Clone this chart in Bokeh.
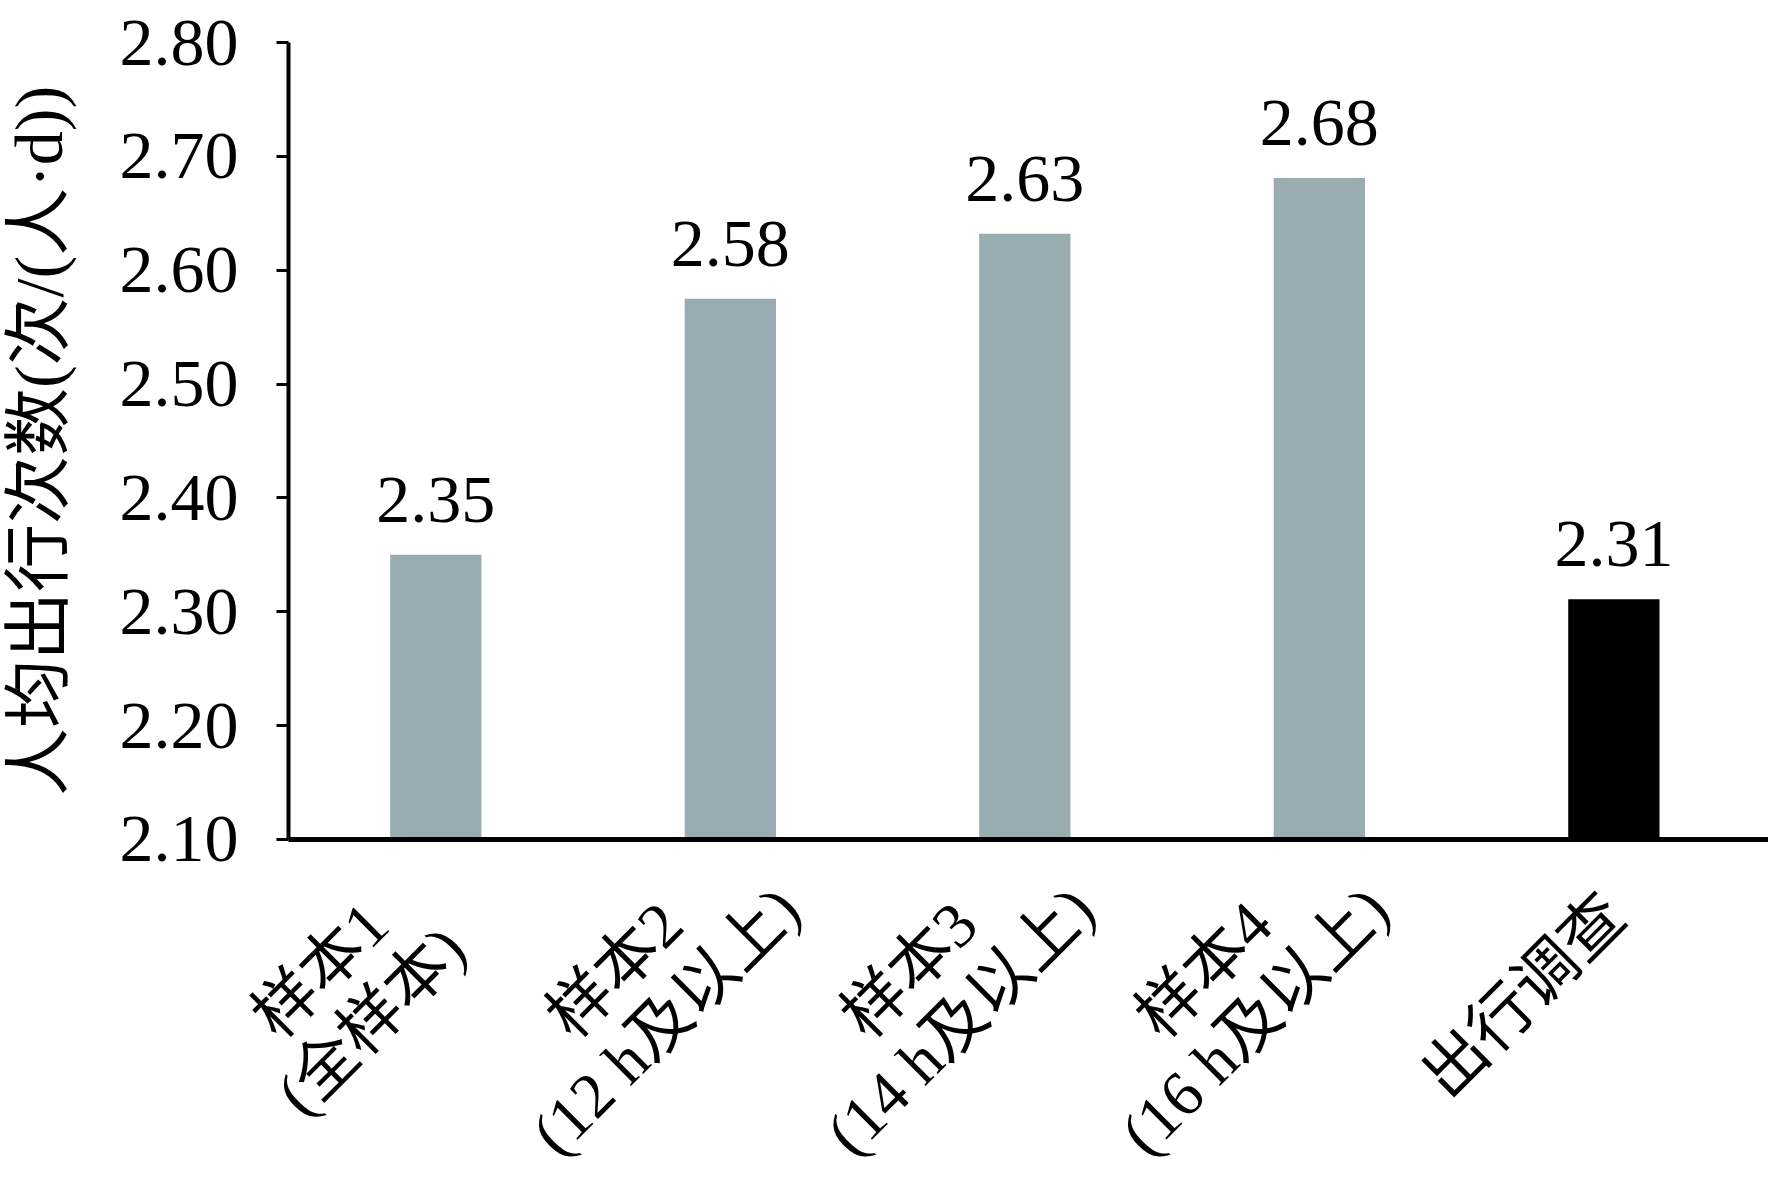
import math
from bokeh.plotting import figure
from bokeh.models import (ColumnDataSource, Range1d, FixedTicker, NumeralTickFormatter,
                          LabelSet, LinearAxis)
from bokeh.embed import file_html
from bokeh.resources import INLINE
from bokeh.core.properties import value

categories = ["样本1\n(全样本)", "样本2\n(12 h及以上)", "样本3\n(14 h及以上)",
              "样本4\n(16 h及以上)", "出行调查"]
trips = [2.35, 2.575, 2.632, 2.681, 2.311]
value_labels = ["2.35", "2.58", "2.63", "2.68", "2.31"]
bar_colors = ["#99acb1", "#99acb1", "#99acb1", "#99acb1", "#000000"]
y_ticks = [2.10, 2.20, 2.30, 2.40, 2.50, 2.60, 2.70, 2.80]
y_label = "人均出行次数(次/(人·d))"

# ---- layout / style settings ----
FONT = "Liberation Serif, Noto Sans CJK SC"
FS = "68px"
FS_CAT = "64px"
W, H = 1768, 1176
X_START, X_END = -0.978, 5.025          # category slots 0..5, room left of the y axis
Y_START, Y_END = 1.804, 2.8369          # room under the x axis for the rotated labels
LBL_DX, LBL_DY, LINE_GAP = -90, -156, 72
C45 = math.cos(math.pi / 4)

n = len(categories)
xpos = [i + 0.5 for i in range(n)]
base = [y_ticks[0]] * n
src = ColumnDataSource(dict(x=xpos, top=trips, lab=value_labels, color=bar_colors, base=base))

# one row per text line of each category label, lines centred on each other
lx, ly, lt, lxo, lyo = [], [], [], [], []
for i, cat in enumerate(categories):
    lines = cat.split("\n")
    m = len(lines)
    for j, t in enumerate(lines):
        k = j - (m - 1) / 2
        lx.append(xpos[i]); ly.append(y_ticks[0]); lt.append(t)
        lxo.append(LBL_DX + k * LINE_GAP * C45)
        lyo.append(LBL_DY - k * LINE_GAP * C45)
lsrc = ColumnDataSource(dict(x=lx, y=ly, text=lt, xo=lxo, yo=lyo))

p = figure(x_range=Range1d(X_START, X_END), y_range=Range1d(Y_START, Y_END),
           width=W, height=H, output_backend="svg", toolbar_location=None,
           x_axis_location=None, y_axis_location=None,
           min_border_left=0, min_border_top=0, min_border_bottom=0, min_border_right=0)
p.outline_line_color = None
p.xgrid.grid_line_color = None
p.ygrid.grid_line_color = None

p.vbar(x="x", top="top", bottom="base", width=0.31, fill_color="color", line_color=None, source=src)
p.text(x="x", y="top", text="lab", source=src, text_align="center", text_baseline="alphabetic",
       y_offset=-55, text_font=value(FONT), text_font_size=FS, text_color="#000000")

cat_labels = LabelSet(x="x", y="y", text="text", source=lsrc, angle=math.pi / 4,
                      text_align="center", text_baseline="middle", x_offset="xo", y_offset="yo",
                      text_font=value(FONT), text_font_size=FS_CAT, text_color="#000000")
p.add_layout(cat_labels)

xaxis = LinearAxis(fixed_location=y_ticks[0], bounds=(0, X_END), ticker=FixedTicker(ticks=[]))
xaxis.major_tick_line_color = None
xaxis.minor_tick_line_color = None
xaxis.axis_line_width = 5
xaxis.axis_line_color = "#000000"
p.add_layout(xaxis, "below")

yaxis = LinearAxis(fixed_location=0, bounds=(y_ticks[0], y_ticks[-1]), ticker=FixedTicker(ticks=y_ticks))
yaxis.formatter = NumeralTickFormatter(format="0.00")
yaxis.axis_label = y_label
yaxis.axis_label_text_font = FONT
yaxis.axis_label_text_font_size = FS
yaxis.axis_label_text_font_style = "normal"
yaxis.axis_label_standoff = 40
yaxis.major_label_text_font = FONT
yaxis.major_label_text_font_size = FS
yaxis.major_label_standoff = 38
yaxis.major_tick_out = 12
yaxis.major_tick_in = 0
yaxis.major_tick_line_width = 3
yaxis.minor_tick_line_color = None
yaxis.axis_line_width = 4
yaxis.axis_line_color = "#000000"
yaxis.major_tick_line_color = "#000000"
yaxis.major_label_text_color = "#000000"
yaxis.axis_label_text_color = "#000000"
p.add_layout(yaxis, "left")

open("out.html", "w").write(file_html(p, INLINE))
